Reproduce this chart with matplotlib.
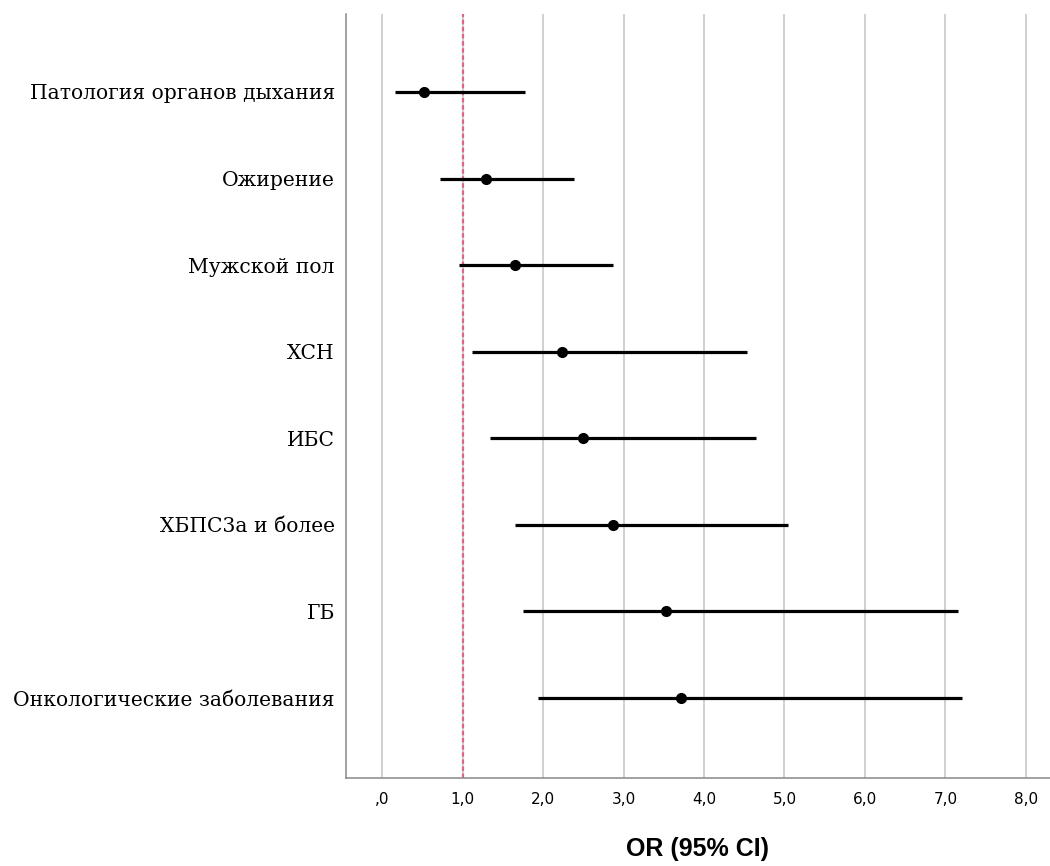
import matplotlib
matplotlib.use("Agg")
import matplotlib.pyplot as plt
from matplotlib.ticker import FuncFormatter

labels = ["Патология органов дыхания", "Ожирение", "Мужской пол", "ХСН", "ИБС",
          "ХБПС3а и более", "ГБ", "Онкологические заболевания"]
odds = [0.52, 1.29, 1.65, 2.24, 2.49, 2.87, 3.53, 3.72]
ci_low = [0.16, 0.72, 0.96, 1.12, 1.34, 1.65, 1.75, 1.94]
ci_high = [1.77, 2.38, 2.87, 4.54, 4.65, 5.04, 7.16, 7.21]
xticks = [0, 1, 2, 3, 4, 5, 6, 7, 8]

fig = plt.figure(figsize=(10.5, 8.66), dpi=100)
ax = fig.add_axes([0.3295, 0.1016, 0.6705, 0.8822])

ypos = list(range(len(labels)))
ax.hlines(ypos, ci_low, ci_high, color="black", lw=2.3, zorder=3)
ax.plot(odds, ypos, "o", color="black", ms=7, zorder=4)
ax.axvline(1.0, color="#dc6684", ls=(0, (2, 1.2)), lw=1.6, zorder=2)

ax.set_xlim(-0.45, 8.3)
ax.set_ylim(len(labels) - 1 + 0.924, -0.9)
ax.set_xticks(xticks)
ax.xaxis.set_major_formatter(FuncFormatter(
    lambda v, p: ",0" if v == 0 else f"{v:.1f}".replace(".", ",")))
ax.set_yticks(ypos)
ax.set_yticklabels(labels, family="DejaVu Serif", fontsize=14.6)
ax.tick_params(axis="both", length=0)
ax.tick_params(axis="x", labelsize=11, pad=10)
ax.tick_params(axis="y", pad=8)
ax.grid(axis="x", color="#c8c8c8", lw=1.2, zorder=0)
for s in ["top", "right"]:
    ax.spines[s].set_visible(False)
for s in ["left", "bottom"]:
    ax.spines[s].set_color("#888888")
    ax.spines[s].set_linewidth(1.1)

ax.set_xlabel("OR (95% CI)", fontsize=18, fontweight="bold",
              family="Liberation Sans", labelpad=22)

fig.savefig("out.png", dpi=100)
